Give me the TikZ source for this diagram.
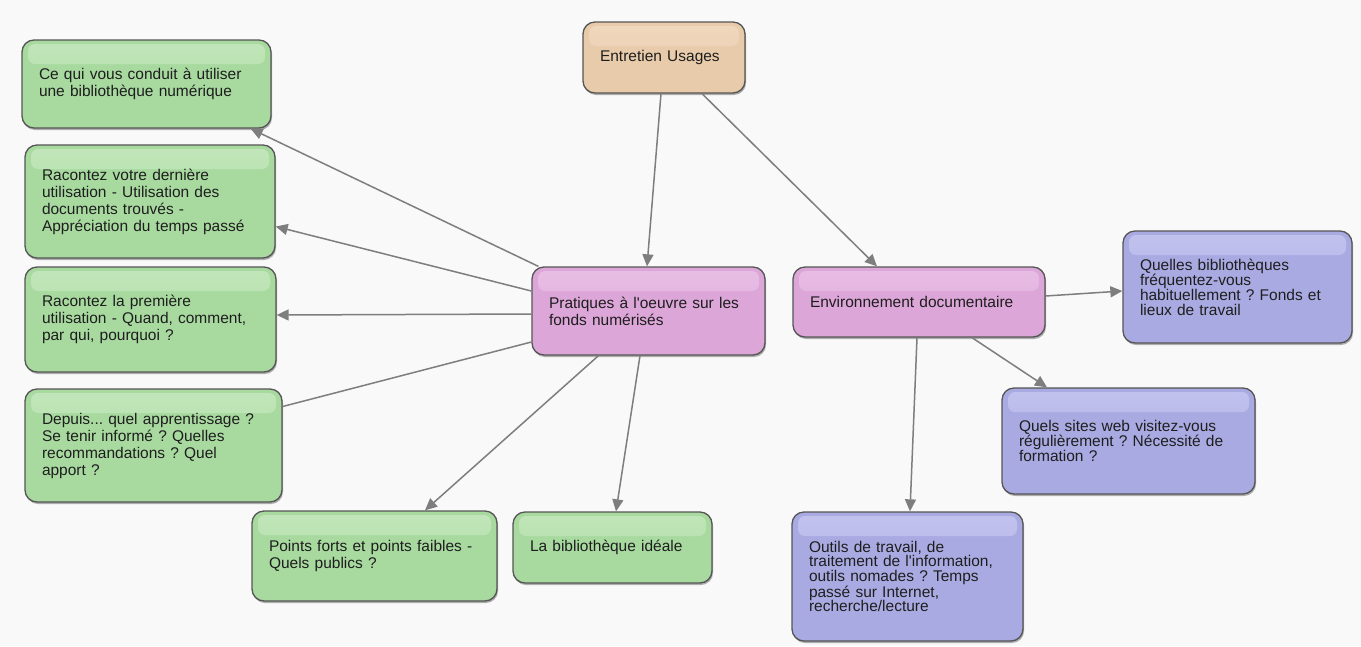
\documentclass[tikz,border=0pt]{standalone}
\usepackage{fontspec}
\setmainfont{Liberation Sans}
\usetikzlibrary{arrows.meta,calc,shadows}
\definecolor{bgc}{HTML}{F9F9F9}
\definecolor{boxline}{HTML}{555555}
\definecolor{txt}{HTML}{1E1E1E}
\definecolor{gbody}{HTML}{A8DAA0}
\definecolor{gtop}{HTML}{C2E6BA}
\definecolor{pbody}{HTML}{DCA6D8}
\definecolor{ptop}{HTML}{E8BEE4}
\definecolor{tbody}{HTML}{E8CBAA}
\definecolor{ttop}{HTML}{F0D8BE}
\definecolor{bbody}{HTML}{AAAAE3}
\definecolor{btop}{HTML}{C2C2EE}
\definecolor{conncol}{HTML}{7E7E7E}
\frenchspacing
\tikzset{
  box/.style={rounded corners=12pt, draw=boxline, line width=1.3pt, align=left,
    inner xsep=17pt, inner ysep=4pt, text=txt,
    font=\fontsize{15.5}{17}\selectfont,
    drop shadow={shadow xshift=1pt, shadow yshift=-2pt, opacity=0.3, fill=black}},
  tight/.style={font=\fontsize{15.5}{14.6}\selectfont},
  hl/.style 2 args={path picture={\shade[top color=#1, bottom color=#2, rounded corners=7pt]
      ($(path picture bounding box.north west)+(6,4)$) rectangle
      ($(path picture bounding box.north east)+(-6,24)$);}},
  gbox/.style={box, fill=gbody, hl={gtop}{gbody}},
  pbox/.style={box, fill=pbody, hl={ptop}{pbody}},
  tbox/.style={box, fill=tbody, hl={ttop}{tbody}},
  bbox/.style={box, fill=bbody, hl={btop}{bbody}, tight},
  conn/.style={draw=conncol, line width=1.5pt},
  arr/.style={conn, -{Triangle[length=12pt,width=11pt]}},
}
\begin{document}
\begin{tikzpicture}[x=1pt,y=-1pt]
\fill[bgc] (0,0) rectangle (1361,646);
\useasboundingbox (0,0) rectangle (1361,646);

\node[tbox, minimum width=162pt, minimum height=71pt, text width=128pt] (ent) at (664,57.5) {Entretien Usages};

\node[gbox, minimum width=249pt, minimum height=88pt, text width=215pt] (ce) at (146.5,84)
  {Ce qui vous conduit à utiliser\\une bibliothèque numérique};
\node[gbox, minimum width=250pt, minimum height=113pt, text width=216pt] (der) at (150,201.5)
  {Racontez votre dernière\\utilisation - Utilisation des\\documents trouvés -\\Appréciation du temps passé};
\node[gbox, minimum width=251pt, minimum height=105pt, text width=217pt] (pre) at (150.5,319.5)
  {Racontez la première\\utilisation - Quand, comment,\\par qui, pourquoi ?};
\node[gbox, minimum width=257pt, minimum height=113pt, text width=223pt] (dep) at (153.5,445.5)
  {Depuis... quel apprentissage ?\\Se tenir informé ? Quelles\\recommandations ? Quel\\apport ?};
\node[gbox, minimum width=245pt, minimum height=90pt, text width=211pt] (pts) at (374.5,556)
  {Points forts et points faibles -\\Quels publics ?};
\node[gbox, minimum width=199pt, minimum height=71pt, text width=165pt] (bib) at (612.5,547.5)
  {La bibliothèque idéale};

\node[pbox, minimum width=233pt, minimum height=88pt, text width=199pt] (pra) at (648.5,311)
  {Pratiques à l\textquotesingle oeuvre sur les\\fonds numérisés};
\node[pbox, minimum width=252pt, minimum height=70pt, text width=218pt] (env) at (919,302)
  {Environnement documentaire};

\node[bbox, minimum width=229pt, minimum height=112pt, text width=195pt] (qb) at (1237.5,287)
  {Quelles bibliothèques\\fréquentez-vous\\habituellement ? Fonds et\\lieux de travail};
\node[bbox, minimum width=253pt, minimum height=106pt, text width=219pt] (qs) at (1128.5,441)
  {Quels sites web visitez-vous\\régulièrement ? Nécessité de\\formation ?};
\node[bbox, minimum width=231pt, minimum height=129pt, text width=197pt] (out) at (907.5,576.5)
  {Outils de travail, de\\traitement de l\textquotesingle information,\\outils nomades ? Temps\\passé sur Internet,\\recherche/lecture};

\draw[arr] ($(ent.south)+(-3,0)$) -- ($(pra.north)+(-1.5,0)$);
\draw[arr] ($(ent.south)+(38,0)$) -- ($(env.north)+(-42,0)$);
\draw[arr] ($(pra.north west)+(7,0)$) -- ($(ce.south east)+(-21,0)$);
\draw[arr] ($(pra.west)+(0,-20)$) -- ($(der.east)+(0,25)$);
\draw[arr] ($(pra.west)+(0,3)$) -- ($(pre.east)+(0,-4.5)$);
\draw[conn] ($(pra.west)+(0,31)$) -- ($(dep.east)+(0,-39)$);
\draw[arr] ($(pra.south)+(-50,0)$) -- ($(pts.north)+(50.5,0)$);
\draw[arr] ($(pra.south)+(-8.5,0)$) -- ($(bib.north)+(3.5,0)$);
\draw[arr] ($(env.east)+(0,-6)$) -- ($(qb.west)+(0,4)$);
\draw[arr] ($(env.south)+(53,0)$) -- ($(qs.north)+(-81.5,0)$);
\draw[arr] ($(env.south)+(-2,0)$) -- ($(out.north)+(2.5,0)$);
\end{tikzpicture}
\end{document}
